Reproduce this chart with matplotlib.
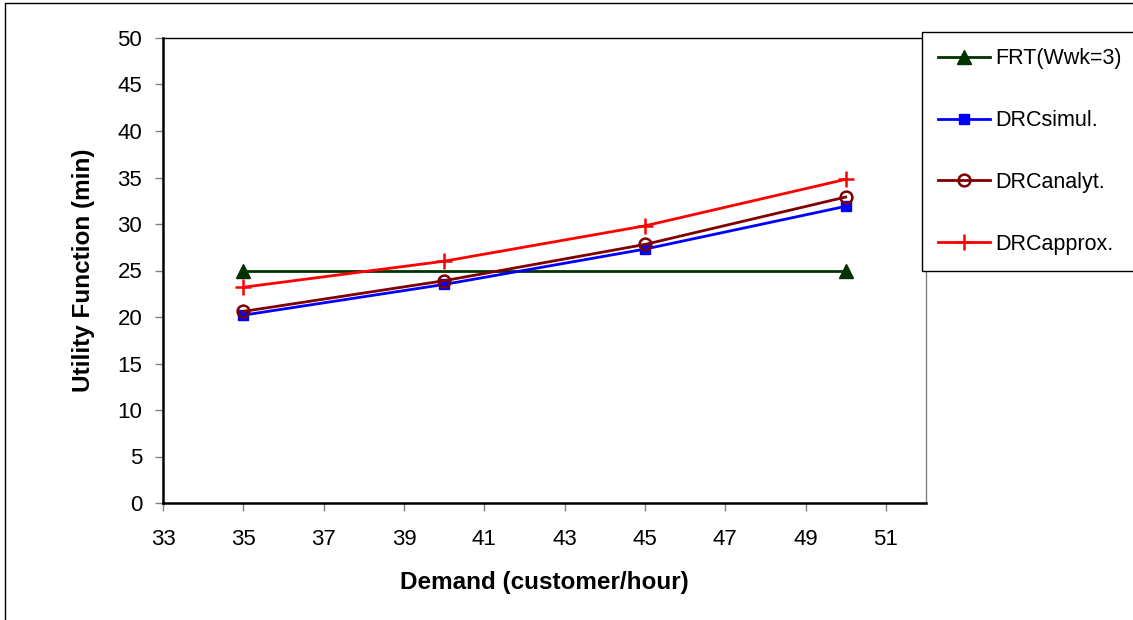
import matplotlib
matplotlib.use("Agg")
import matplotlib.pyplot as plt
from matplotlib.patches import Rectangle

plt.rcParams['font.family'] = ['Liberation Sans', 'DejaVu Sans']

# data
frt_x = [35, 50]
frt_y = [25, 25]
demand = [35, 40, 45, 50]
drc_simul = [20.2, 23.5, 27.3, 31.9]
drc_analyt = [20.6, 23.9, 27.8, 32.9]
drc_approx = [23.2, 26.0, 29.8, 34.8]

fig = plt.figure(figsize=(11.33, 6.2), dpi=100)
ax = fig.add_axes([163 / 1133, 1 - 503 / 620, (926 - 163) / 1133, (503 - 38) / 620])

ax.plot(frt_x, frt_y, color='#003300', lw=2, marker='^', ms=10, label='FRT(Wwk=3)')
ax.plot(demand, drc_simul, color='#0000FF', lw=2, marker='s', ms=7, label='DRCsimul.')
ax.plot(demand, drc_analyt, color='#800000', lw=2, marker='o', ms=8.5,
        mfc='none', mew=1.8, label='DRCanalyt.')
ax.plot(demand, drc_approx, color='#FF0000', lw=2, marker='+', ms=12, mew=1.8,
        label='DRCapprox.')

ax.set_xlim(33, 52)
ax.set_ylim(0, 50)
ax.set_xticks(range(33, 52, 2))
ax.set_yticks(range(0, 51, 5))
ax.tick_params(direction='out', length=6, width=1, color='#808080', labelsize=16)
ax.tick_params(axis='x', pad=13)
ax.tick_params(axis='y', pad=9)

for side in ['left', 'bottom']:
    ax.spines[side].set_linewidth(1.8)
    ax.spines[side].set_color('black')
for side in ['top', 'right']:
    ax.spines[side].set_linewidth(1.0)
ax.spines['top'].set_color('black')
ax.spines['right'].set_color('#808080')

ax.set_xlabel('Demand (customer/hour)', fontsize=17.5, fontweight='bold', labelpad=15)
ax.set_ylabel('Utility Function (min)', fontsize=17.5, fontweight='bold', labelpad=16)

leg = fig.legend(loc='upper left', bbox_to_anchor=(922 / 1133, 1 - 32 / 620),
                 bbox_transform=fig.transFigure, borderaxespad=0, fontsize=15.5,
                 labelspacing=1.9, handlelength=2.4, handletextpad=0.25,
                 borderpad=0.75, fancybox=False, framealpha=1)
leg.get_frame().set_edgecolor('black')
leg.get_frame().set_linewidth(1.0)

# outer chart-area border
fig.patches.append(Rectangle((5 / 1133, -0.1), 1.2, 1 - 3 / 620 + 0.1,
                             transform=fig.transFigure, fill=False,
                             edgecolor='black', lw=1.0))

fig.savefig('out.png', dpi=100)
